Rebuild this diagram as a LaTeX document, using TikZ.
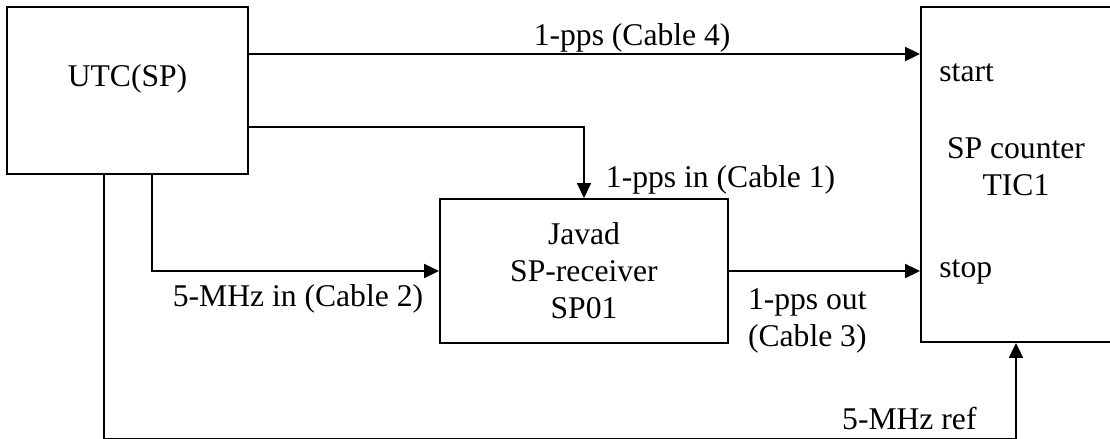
\documentclass[tikz,border=0pt]{standalone}
\usepackage{fontspec}
\setmainfont{Liberation Serif}
\usetikzlibrary{arrows.meta}
\newcommand{\widthutc}{4.82cm}
\newcommand{\heightutc}{3.34cm}
\newcommand{\widthrcv}{5.76cm}
\newcommand{\heightrcv}{2.88cm}
\newcommand{\widthtic}{3.9cm}
\newcommand{\heighttic}{6.7cm}
\tikzset{
    common/.style={draw, rectangle, line width=1.1pt, inner sep=0pt},
    clock/.style={common, minimum width=\widthutc, minimum height=\heightutc},
    receiver/.style={common, align=center, minimum width=\widthrcv, minimum height=\heightrcv},
    counterbox/.style={common, minimum width=\widthtic, minimum height=\heighttic},
    sig/.style={line width=1.1pt, -{Triangle[length=0.3cm, width=0.28cm]}},
    tag/.style={inner sep=0pt}
}
\begin{document}
\begin{tikzpicture}[x=0.02cm, y=-0.02cm, every node/.style={font=\fontsize{18}{21}\selectfont}]
    \useasboundingbox (0,0) rectangle (1110,439);

    \node[clock, label={[anchor=base, yshift=-1.6cm]north:UTC(SP)}] (utc) at (127.5,90.5) {};
    \node[receiver] (javad) at (584,271) {Javad\\SP-receiver\\SP01};
    \node[counterbox, label={[align=center, xshift=-0.05cm, yshift=0.15cm]center:SP counter\\TIC1}] (counter) at (1018.5,174.5) {};
    \node[tag, anchor=base west] (start) at ([xshift=0.38cm, yshift=1.87cm]counter.west) {start};
    \node[tag, anchor=base west] (stop) at ([xshift=0.38cm, yshift=-2.07cm]counter.west) {stop};

    \draw[sig] ([yshift=0.73cm]utc.east) coordinate (c4) -- node[tag, pos=0.571, anchor=base, yshift=0.18cm] (lbl-c4) {1-pps (Cable 4)} (c4 -| counter.west);
    \draw[sig] ([yshift=-0.73cm]utc.east) -| (javad.north) node[tag, anchor=base west, xshift=0.42cm, yshift=0.22cm] (lbl-c1) {1-pps in (Cable 1)};
    \draw[sig] ([xshift=0.49cm]utc.south) |- (javad.west) node[tag, anchor=base east, xshift=-0.3cm, yshift=-0.72cm] (lbl-c2) {5-MHz in (Cable 2)};
    \draw[sig] (javad.east) -- node[tag, pos=0.41, anchor=north, align=center, yshift=-0.34cm] (lbl-c3) {1-pps out\\(Cable 3)} (javad.east -| counter.west);
    \draw[sig] ([xshift=-0.47cm]utc.south) |- ([xshift=-0.05cm, yshift=-1.92cm]counter.south) coordinate (ref) node[tag, anchor=base east, xshift=-0.77cm, yshift=0.18cm] (lbl-ref) {5-MHz ref} -- (ref |- counter.south);
\end{tikzpicture}
\end{document}
